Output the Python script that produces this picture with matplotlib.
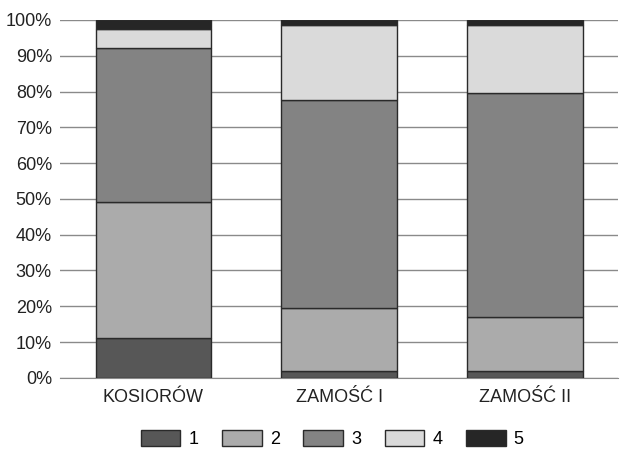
import matplotlib.pyplot as plt
from matplotlib.ticker import PercentFormatter

plt.rcParams['font.family'] = ['Liberation Sans', 'DejaVu Sans']

# miejsca i udzialy klas (%)
miejsca = ['KOSIORÓW', 'ZAMOŚĆ I', 'ZAMOŚĆ II']
klasy = ['1', '2', '3', '4', '5']
k1 = [11.2, 2.0, 2.0]
k2 = [37.8, 17.5, 15.0]
k3 = [43.2, 58.0, 62.6]
k4 = [5.3, 21.1, 19.0]
k5 = [2.5, 1.4, 1.4]
kolory = ['#575757', '#ababab', '#838383', '#dadada', '#262626']

fig = plt.figure(figsize=(6.21, 4.53), dpi=100)
ax = fig.add_axes([0.097, 0.166, 0.898, 0.79])

dol = [0, 0, 0]
for nazwa, wart, kol in zip(klasy, [k1, k2, k3, k4, k5], kolory):
    ax.bar(miejsca, wart, bottom=dol, width=0.62, color=kol,
           edgecolor='#2a2a2a', linewidth=1.0, label=nazwa, zorder=3)
    dol = [a + b for a, b in zip(dol, wart)]

ax.set_xlim(-0.5, 2.5)
ax.set_ylim(0, 100)
ax.set_yticks(range(0, 101, 10))
ax.yaxis.set_major_formatter(PercentFormatter(decimals=0))
ax.grid(axis='y', color='#8a8a8a', linewidth=1.0, zorder=0)
for s in ['top', 'right', 'left']:
    ax.spines[s].set_visible(False)
ax.spines['bottom'].set_color('#8a8a8a')
ax.tick_params(axis='y', length=0, pad=6, labelsize=13, colors='#222222')
ax.tick_params(axis='x', length=0, pad=8, labelsize=13, colors='#222222')

fig.legend(loc='lower center', ncol=5, bbox_to_anchor=(0.535, -0.025),
           frameon=False, fontsize=13, handlelength=2.2, handleheight=1.0,
           columnspacing=1.3, handletextpad=0.45)

fig.savefig('out.png', dpi=100)
